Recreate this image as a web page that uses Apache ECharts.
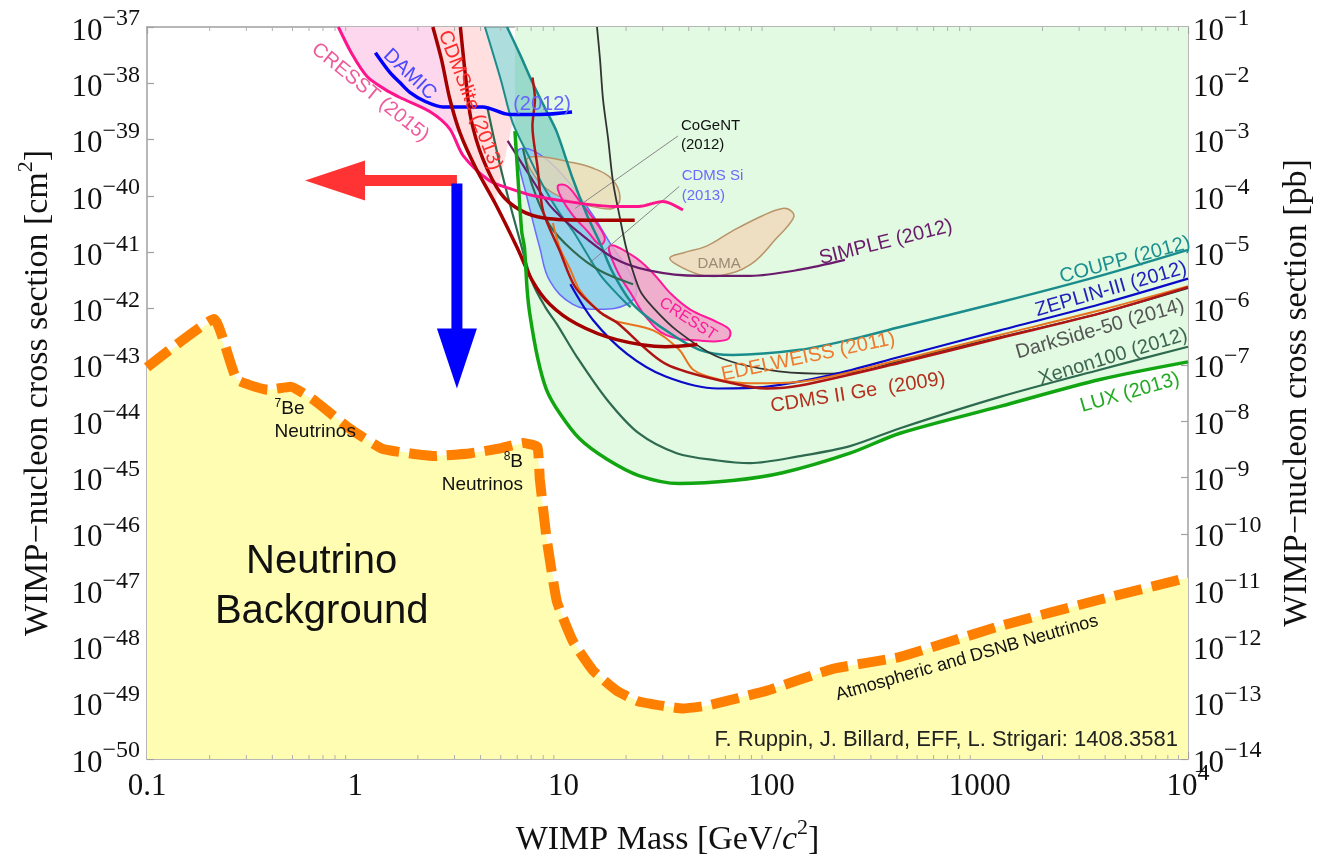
<!DOCTYPE html>
<html>
<head>
<meta charset="utf-8">
<title>WIMP exclusion limits and neutrino background</title>
<script src="https://cdn.jsdelivr.net/npm/echarts@6/dist/echarts.min.js"></script>
<style>
html,body{margin:0;padding:0;background:#fff;}
#chart{width:1344px;height:862px;}
</style>
</head>
<body>
<div id="chart"></div>
<script>
// ===== Data: [WIMP mass (GeV/c^2), WIMP-nucleon cross section (cm^2)] =====
const massTickLabels = ['0.1', '1', '10', '100', '1000', '10^4'];
const minorTickMasses = [0.2,0.3,0.4,0.5,0.6,0.7,0.8,0.9, 2,3,4,5,6,7,8,9, 20,30,40,50,60,70,80,90, 200,300,400,500,600,700,800,900, 2000,3000,4000,5000,6000,7000,8000,9000];
const SIGMA_MIN = 1e-50, SIGMA_MAX = 1e-37, MASS_MIN = 0.1, MASS_MAX = 1e4;

const neutrinoFloor = [[0.1,9.0e-44],[0.21,6.5e-43],[0.27,5.5e-44],[0.38,3.6e-44],[0.49,4.1e-44],[0.63,2.4e-44],[0.95,7.2e-45],[1.36,3.2e-45],[2.4,2.4e-45],[3.6,2.7e-45],[5.0,3.3e-45],[6.4,4.1e-45],[7.5,3.5e-45],[7.7,9.5e-46],[8.3,8.4e-47],[9.3,6.3e-48],[11.1,1.24e-48],[13.9,3.7e-49],[18,1.64e-49],[23,1.05e-49],[37.5,7.9e-50],[49,8.9e-50],[95,1.64e-49],[197,4.0e-49],[414,6.5e-49],[1250,2.3e-48],[3780,6.8e-48],[10000,1.66e-47]];

const lux = [[5.85,1.42e-39],[6.0,3.4e-40],[6.3,2.4e-41],[6.5,1.2e-41],[6.7,2.1e-42],[6.9,7.9e-43],[7.5,1.39e-43],[8.3,3.6e-44],[9.6,1.38e-44],[12,4.8e-45],[16.2,2.1e-45],[23,1.08e-45],[36,7.8e-46],[65,8.8e-46],[113,1.21e-45],[238,2.7e-45],[414,6.1e-45],[1250,1.83e-44],[3780,5.5e-44],[10000,1.13e-43]];

const xenon100 = [[4.3,3.9e-39],[5.0,3.1e-40],[6.0,2.4e-41],[7.1,2.9e-42],[8.2,1.05e-42],[9.3,5.3e-43],[11.6,1.39e-43],[16.2,2.4e-44],[23,6.1e-45],[35,2.7e-45],[55,2.0e-45],[79,1.8e-45],[137,2.4e-45],[238,3.6e-45],[414,7.5e-45],[1250,2.7e-44],[3780,8.2e-44],[10000,2.1e-43]];

const xenonLowMass = [[6.4,6.9e-40],[7.1,1.5e-40],[8.6,3.0e-41],[11.1,1.06e-41],[15,4.7e-42],[21.6,2.7e-42]];

const coupp = [[5.36,1e-37],[6.2,3.2e-38],[7.1,1.03e-38],[8.2,3.5e-39],[9.3,1.36e-39],[11.1,2.0e-40],[13,4.5e-41],[15,1.46e-41],[17.3,4.3e-42],[21.6,1.19e-42],[31,4.1e-43],[45,1.85e-43],[65,1.5e-43],[137,1.85e-43],[238,2.8e-43],[414,4.7e-43],[1250,1.29e-42],[3780,3.8e-42],[10000,1.1e-41]];

const tealLow = [[4.2,1e-37],[5.0,1.17e-38],[5.7,2.0e-39],[6.9,4.6e-40],[8.0,1.5e-40],[9.6,4.9e-41],[11.1,2.4e-41],[15,4.0e-42],[18.7,1.6e-42],[21,1.05e-42]];

const darkSide = [[14.5,1e-37],[15,2.6e-38],[15.5,5.2e-39],[16.4,1.03e-39],[17.3,1.8e-40],[18.7,4.0e-41],[20.2,1.06e-41],[23.3,2.1e-42],[26.9,1.05e-42],[35,4.1e-43],[55,1.39e-43],[95,8.2e-44],[165,7.0e-44],[266,7.6e-44],[414,1.18e-43],[1250,3.1e-43],[3780,8.2e-43],[10000,2.3e-42]];

const zeplin = [[10.8,2.7e-42],[13.9,6.2e-43],[20.2,1.57e-43],[31,6.2e-44],[55,3.8e-44],[95,4.1e-44],[197,6.7e-44],[414,1.39e-43],[1250,4.1e-43],[3780,1.19e-42],[10000,3.4e-42]];

const edelweiss = [[8.9,3.3e-41],[9.6,1.2e-41],[10.8,4.9e-42],[12,2.1e-42],[15,8.6e-43],[17.3,6.2e-43],[27,4.1e-43],[36,1.85e-43],[42,8.2e-44],[56,5.5e-44],[79,4.7e-44],[137,5.0e-44],[414,1.23e-43],[1250,3.4e-43],[3780,9.3e-43],[10000,2.5e-42]];

const cdmsGe = [[7.1,1.27e-38],[7.3,5.2e-39],[7.1,1.74e-39],[7.5,3.4e-40],[8.0,5.3e-41],[9.6,1.06e-41],[11.4,2.4e-42],[15,8.6e-43],[18,5.7e-43],[31,1.04e-43],[65,4.7e-44],[95,3.8e-44],[137,4.3e-44],[414,1.09e-43],[1250,3.0e-43],[3780,8.2e-43],[10000,2.4e-42]];

const cdmsLowE = [[2.36,1e-37],[2.6,2.6e-38],[2.85,5.2e-39],[3.2,1.26e-39],[3.8,3.1e-40],[4.7,7.4e-41],[6.0,1.2e-41],[7.1,3.1e-42],[8.6,1.19e-42],[11.6,5.3e-43],[18,2.8e-43],[31,2.1e-43],[44,2.3e-43]];

const cdmslite = [[3.2,1e-37],[3.4,1.17e-38],[3.6,2.3e-39],[4.1,4.6e-40],[5.0,1.11e-40],[6.2,5.6e-41],[8.2,4.0e-41],[13.4,3.7e-41],[22,3.7e-41]];

const cresst2015 = [[0.83,1e-37],[0.97,3.2e-38],[1.14,1.32e-38],[1.39,7.8e-39],[1.64,5.6e-39],[2.3,3.1e-39],[2.85,1.54e-39],[3.3,5.2e-40],[4.4,1.88e-40],[5.5,1.36e-40],[7.1,1.02e-40],[10.4,8.0e-41],[17.3,6.5e-41],[23,6.5e-41],[30,8.0e-41],[37.5,5.6e-41]];

const damic = [[1.25,3.5e-38],[1.47,1.55e-38],[1.64,1.03e-38],[1.83,6.9e-39],[2.16,4.8e-39],[2.64,3.8e-39],[4.1,3.8e-39],[5.5,2.8e-39],[7.7,2.8e-39],[11,3.1e-39]];

const simple = [[5.4,9.5e-40],[6.7,2.7e-40],[8.6,6.8e-41],[11.6,2.4e-41],[17.3,8.0e-42],[26,4.7e-42],[45,3.8e-42],[79,3.8e-42],[137,4.9e-42],[225,7.3e-42]];

const cdmsSi = [[6.0,5.2e-40],[6.7,9.1e-41],[7.7,1.2e-41],[8.6,3.1e-42],[11.1,1.19e-42],[15,9.7e-43],[20.2,1.19e-42],[22.5,2.1e-42],[20.2,5.3e-42],[17.3,1.2e-41],[14.2,4.0e-41],[11.4,1.25e-40],[9.1,3.3e-40],[7.3,6.1e-40],[6.2,6.9e-40]];

const cogent = [[6.7,4.6e-40],[7.7,5.0e-40],[10.4,4.1e-40],[13.9,3.1e-40],[17.3,1.9e-40],[18.7,9.1e-41],[17.3,6.0e-41],[13,6.8e-41],[10,9.1e-41],[8.0,1.5e-40],[6.9,3.1e-40]];

const dama = [[32.5,8.0e-42],[37.5,9.7e-42],[49,1.3e-41],[65,2.4e-41],[91,4.5e-41],[113,6.0e-41],[125,5.3e-41],[127,4.0e-41],[106,1.8e-41],[79,6.0e-42],[56,3.8e-42],[45,4.0e-42],[35,6.0e-42]];

const cresstSmall = [[9.4,1.5e-40],[10.4,1.5e-40],[12,8.0e-41],[13.9,4.0e-41],[15.8,1.8e-41],[15,1.35e-41],[13,2.4e-41],[11.1,4.5e-41],[9.8,9.1e-41]];

const cresst2012 = [[16.7,1.3e-41],[21.6,8.6e-42],[27,4.2e-42],[32.5,1.9e-42],[40.5,9.7e-43],[55,5.7e-43],[63,4.1e-43],[61,2.8e-43],[45,2.7e-43],[31,3.4e-43],[25,7.0e-43],[21,1.9e-42],[18,4.9e-42]];

const cogentLeader = [[35.5,1.16e-39],[11.4,6.0e-41]];
const cdmsSiLeader = [[36,1.47e-40],[13.4,6.5e-42]];

// ===== Annotations (text & arrows), anchored in data units =====
const annotations = [
  {text:'CRESST (2015)', at:[1.18,6.9e-39], rotate:-39, color:'#ee5c9c', size:20},
  {text:'DAMIC', at:[1.83,1.43e-38], rotate:-43, color:'#4a4aff', size:20},
  {text:'(2012)', at:[7.9,4.2e-39], color:'#6666ff', size:20},
  {text:'CDMSlite (2013)', at:[3.56,5.0e-39], rotate:-69, color:'#ff2a2a', size:20},
  {text:'CoGeNT\n(2012)', at:[36.7,1.2e-39], color:'#111', size:15, align:'left', lineHeight:19},
  {text:'CDMS Si\n(2013)', at:[37,1.5e-40], color:'#6a6aff', size:15, align:'left', lineHeight:20},
  {text:'DAMA', at:[56,6.3e-42], color:'#9a8a72', size:15},
  {text:'SIMPLE (2012)', at:[354,1.5e-41], rotate:14, color:'#6b1b6b', size:20},
  {text:'COUPP (2012)', at:[4980,7.3e-42], rotate:15, color:'#1a9090', size:20},
  {text:'ZEPLIN-III (2012)', at:[4270,2.2e-42], rotate:16, color:'#2222bb', size:20},
  {text:'DarkSide-50 (2014)', at:[3780,4.3e-43], rotate:16, color:'#555555', size:20},
  {text:'Xenon100 (2012)', at:[4370,1.39e-43], rotate:17, color:'#3d6652', size:20},
  {text:'LUX (2013)', at:[5260,3.2e-44], rotate:16, color:'#22aa22', size:20},
  {text:'EDELWEISS (2011)', at:[150,1.39e-43], rotate:12, color:'#f07a30', size:20},
  {text:'CDMS II Ge  (2009)', at:[260,3.2e-44], rotate:9, color:'#b3301f', size:20},
  {text:'CRESST', at:[39.6,6.5e-43], rotate:-33, color:'#ff1a99', size:16},
  {text:'{sup|7}Be\nNeutrinos', at:[0.41,1.04e-44], color:'#111', size:19, align:'left', lineHeight:23},
  {text:'{sup|8}B\nNeutrinos', at:[6.4,1.17e-45], color:'#111', size:19, align:'right', lineHeight:23},
  {text:'Neutrino\nBackground', at:[0.69,1.15e-47], color:'#111', size:40, lineHeight:50},
  {text:'Atmospheric and DSNB Neutrinos', at:[867,6.2e-49], rotate:16, color:'#111', size:18},
  {text:'F. Ruppin, J. Billard, EFF, L. Strigari: 1408.3581', at:[8950,2.2e-50], color:'#222', size:22, align:'right'}
];
const arrows = [
  {from:[3.08,1.88e-40], to:[0.574,1.88e-40], color:'#ff3333'},
  {from:[3.08,1.66e-40], to:[3.08,3.8e-44], color:'#0000ff'}
];

// ===== helpers =====
const L = v => Math.log10(v);
const toXY = arr => arr.map(p => [L(p[0]), L(p[1])]);
const SERIF = 'Liberation Serif';
const SANS = 'Liberation Sans';

function lineSeries(name, pts, color, width, z, smooth) {
  return {
    type: 'line', name, data: toXY(pts), z: z || 5, silent: true,
    showSymbol: false, symbol: 'none', smooth: smooth == null ? 0.3 : smooth,
    lineStyle: {color, width}, animation: false
  };
}
function polySeries(name, pts, fill, stroke, lw, z, smooth) {
  const data = toXY(pts);
  return {
    type: 'custom', name, z: z || 1, silent: true, clip: true, data,
    renderItem: function (params, api) {
      if (params.dataIndex !== 0) return null;
      const points = data.map(d => api.coord(d));
      return {
        type: 'polygon',
        shape: {points, smooth: smooth || 0},
        style: {fill, stroke: stroke || 'none', lineWidth: lw || 0}
      };
    }
  };
}

// composite fill regions built from the curves
const greenRegion = [[lux[0][0], SIGMA_MAX]].concat(lux, [[MASS_MAX, SIGMA_MAX]]);
const pinkRegion = cresst2015.slice(0, 7).concat(cdmsLowE.slice(0, 4).reverse());
const salmonRegion = cdmsLowE.slice(0, 6).concat(tealLow.slice(0, 3).reverse());
const tealRegion = tealLow.concat(coupp.slice(0, 10).reverse());
const yellowRegion = neutrinoFloor.concat([[MASS_MAX, SIGMA_MIN], [MASS_MIN, SIGMA_MIN]]);

const tickRich = {
  b: {fontFamily: SERIF, fontSize: 31, color: '#111', verticalAlign: 'bottom', lineHeight: 40},
  s: {fontFamily: SERIF, fontSize: 24, color: '#111', verticalAlign: 'top', lineHeight: 24}
};
const nameRich = {
  n: {fontFamily: SERIF, fontSize: 34, color: '#111', verticalAlign: 'bottom', lineHeight: 40},
  i: {fontFamily: SERIF, fontSize: 34, color: '#111', fontStyle: 'italic', verticalAlign: 'bottom', lineHeight: 40},
  s: {fontFamily: SERIF, fontSize: 22, color: '#111', verticalAlign: 'top', lineHeight: 30}
};
const massFmt = v => {
  const s = massTickLabels[Math.round(v) + 1];
  if (s === undefined) return '';
  if (s.indexOf('^') >= 0) { const parts = s.split('^'); return '{b|' + parts[0] + '}{s|' + parts[1] + '}'; }
  return '{b|' + s + '}';
};
const powFmt = v => '{b|10}{s|\u2212' + Math.abs(Math.round(v)) + '}';

const frameLine = {show: true, onZero: false, lineStyle: {color: '#a0a0a0', width: 1.5}};
const frameTick = {show: true, inside: true, length: 7, lineStyle: {color: '#a0a0a0', width: 1.2}};

const chart = echarts.init(document.getElementById('chart'), null, {renderer: 'canvas'});
const option = {
  animation: false,
  backgroundColor: '#ffffff',
  grid: {left: 147, right: 156, top: 27, bottom: 96, containLabel: false},
  xAxis: [
    {type: 'value', min: -1, max: 4, interval: 1, position: 'bottom',
     axisLine: frameLine, axisTick: frameTick, splitLine: {show: false},
     axisLabel: {formatter: massFmt, rich: tickRich, margin: 3, showMinLabel: true, showMaxLabel: true},
     name: '{n|WIMP Mass [GeV/}{i|c}{s|2}{n|]}', nameLocation: 'middle', nameGap: 58,
     nameTextStyle: {rich: nameRich}},
    {type: 'value', min: -1, max: 4, interval: 1, position: 'top',
     axisLine: frameLine, axisTick: frameTick, splitLine: {show: false}, axisLabel: {show: false}}
  ],
  yAxis: [
    {type: 'value', min: -50, max: -37, interval: 1, position: 'left',
     axisLine: frameLine, axisTick: frameTick, splitLine: {show: false},
     axisLabel: {formatter: powFmt, rich: tickRich, margin: 7},
     name: '{n|WIMP\u2212nucleon cross section [cm}{s|2}{n|]}', nameLocation: 'middle', nameGap: 92, nameRotate: 90,
     nameTextStyle: {rich: nameRich}},
    {type: 'value', min: -14, max: -1, interval: 1, position: 'right',
     axisLine: frameLine, axisTick: frameTick, splitLine: {show: false},
     axisLabel: {formatter: powFmt, rich: tickRich, margin: 5},
     name: '{n|WIMP\u2212nucleon cross section [pb]}', nameLocation: 'middle', nameGap: 86, nameRotate: 90,
     nameTextStyle: {rich: nameRich}}
  ],
  series: [
    polySeries('Neutrino background region', yellowRegion, '#fefdb2', null, 0, 1, 0),
    polySeries('LUX excluded region', greenRegion, '#e1fae1', null, 0, 1, 0),
    polySeries('CRESST 2015 region', pinkRegion, '#fcd7ee', null, 0, 1, 0),
    polySeries('CDMSlite region', salmonRegion, '#ffdfe0', null, 0, 1, 0),
    polySeries('Low-mass band', tealRegion, 'rgba(40,165,165,0.38)', null, 0, 2, 0),
    polySeries('CDMS Si (2013)', cdmsSi, 'rgba(140,205,238,0.85)', '#6a6aff', 1.5, 3, 0.4),
    polySeries('CoGeNT (2012)', cogent, 'rgba(236,216,178,0.75)', '#b8946a', 1.5, 3, 0.4),
    polySeries('DAMA', dama, '#eedfc2', '#b8946a', 1.5, 3, 0.4),
    polySeries('CRESST (2012) a', cresstSmall, 'rgba(240,160,200,0.85)', '#ff1a9c', 2, 3, 0.4),
    polySeries('CRESST (2012) b', cresst2012, 'rgba(240,160,200,0.85)', '#ff1a9c', 2, 3, 0.4),
    lineSeries('CoGeNT leader', cogentLeader, '#888888', 1, 4, 0),
    lineSeries('CDMS Si leader', cdmsSiLeader, '#888888', 1, 4, 0),
    lineSeries('CRESST (2015)', cresst2015, '#ff148c', 3, 6),
    lineSeries('DAMIC (2012)', damic, '#0000ff', 3.5, 6),
    lineSeries('CDMS low threshold', cdmsLowE, '#a50000', 3.5, 6),
    lineSeries('CDMSlite (2013)', cdmslite, '#a50000', 3.5, 6),
    lineSeries('Low-mass teal', tealLow, '#1a8c8c', 2, 5),
    lineSeries('COUPP (2012)', coupp, '#1a8c8c', 2.5, 5),
    lineSeries('SIMPLE (2012)', simple, '#6b1b6b', 2.2, 5),
    lineSeries('DarkSide-50 (2014)', darkSide, '#333333', 1.8, 5),
    lineSeries('Xenon low mass', xenonLowMass, '#2d6a4f', 2.2, 5),
    lineSeries('Xenon100 (2012)', xenon100, '#2d6a4f', 2.2, 5),
    lineSeries('ZEPLIN-III (2012)', zeplin, '#0a0ac8', 2.2, 5),
    lineSeries('EDELWEISS (2011)', edelweiss, '#e8731f', 2, 5),
    lineSeries('CDMS II Ge (2009)', cdmsGe, '#b01515', 2.5, 5),
    lineSeries('LUX (2013)', lux, '#12a512', 3.5, 6),
    {type: 'line', name: 'Neutrino floor', data: toXY(neutrinoFloor), z: 4, silent: true,
     showSymbol: false, symbol: 'none', smooth: 0.12,
     lineStyle: {color: '#ff8000', width: 10, type: [28, 10], cap: 'butt'}},
    {type: 'custom', name: 'minor ticks', z: 8, silent: true, clip: false,
     data: minorTickMasses.map(m => [L(m)]),
     renderItem: function (params, api) {
       const x = api.value(0);
       const pb = api.coord([x, L(SIGMA_MIN)]);
       const pt = api.coord([x, L(SIGMA_MAX)]);
       const st = {stroke: '#b0b0b0', lineWidth: 1};
       return {type: 'group', children: [
         {type: 'line', shape: {x1: pb[0], y1: pb[1], x2: pb[0], y2: pb[1] - 4}, style: st},
         {type: 'line', shape: {x1: pt[0], y1: pt[1], x2: pt[0], y2: pt[1] + 4}, style: st}
       ]};
     }},
    {type: 'custom', name: 'arrows', z: 9, silent: true, clip: false,
     data: arrows.map(a => [L(a.from[0]), L(a.from[1]), L(a.to[0]), L(a.to[1])]),
     renderItem: function (params, api) {
       const a = arrows[params.dataIndex];
       const p1 = api.coord([api.value(0), api.value(1)]);
       const p2 = api.coord([api.value(2), api.value(3)]);
       const dx = p2[0] - p1[0], dy = p2[1] - p1[1];
       const len = Math.sqrt(dx * dx + dy * dy);
       const ux = dx / len, uy = dy / len, nx = -uy, ny = ux;
       const hl = 60, hw = 20, sw = 5.5;
       const bx = p2[0] - ux * hl, by = p2[1] - uy * hl;
       const pts = [
         [p1[0] + nx * sw, p1[1] + ny * sw], [bx + nx * sw, by + ny * sw], [bx + nx * hw, by + ny * hw],
         [p2[0], p2[1]],
         [bx - nx * hw, by - ny * hw], [bx - nx * sw, by - ny * sw], [p1[0] - nx * sw, p1[1] - ny * sw]
       ];
       return {type: 'polygon', shape: {points: pts}, style: {fill: a.color}};
     }},
    {type: 'custom', name: 'labels', z: 10, silent: true, clip: false,
     data: annotations.map(a => [L(a.at[0]), L(a.at[1])]),
     renderItem: function (params, api) {
       const a = annotations[params.dataIndex];
       const p = api.coord([api.value(0), api.value(1)]);
       return {
         type: 'text', x: p[0], y: p[1], rotation: (a.rotate || 0) * Math.PI / 180,
         style: {
           text: a.text, fill: a.color, fontSize: a.size, fontFamily: SANS,
           align: a.align || 'center', verticalAlign: 'middle',
           lineHeight: a.lineHeight || Math.round(a.size * 1.2),
           rich: {sup: {fontSize: 12, fontFamily: SANS, fill: a.color, color: a.color, verticalAlign: 'top', lineHeight: 14}}
         }
       };
     }}
  ]
};
chart.setOption(option);
</script>
</body>
</html>
